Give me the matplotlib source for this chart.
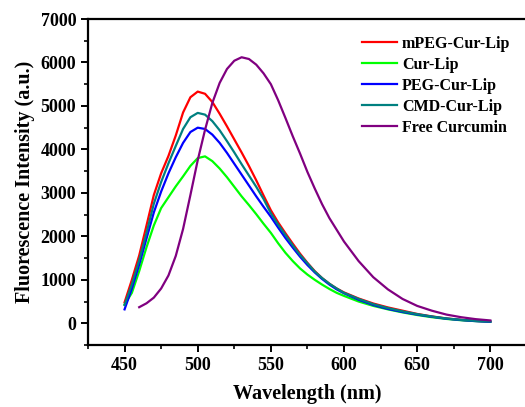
import numpy as np
import matplotlib
matplotlib.use("Agg")
import matplotlib.pyplot as plt
from matplotlib.ticker import MultipleLocator

plt.rcParams['font.family'] = ['Liberation Serif', 'DejaVu Serif']
plt.rcParams['font.weight'] = 'bold'

# wavelength grid (nm) for the liposome spectra
wl = [450, 455, 460, 465, 470, 475, 480, 485, 490, 495, 500, 505, 510, 515, 520,
      525, 530, 535, 540, 545, 550, 555, 560, 565, 570, 575, 580, 585, 590, 595,
      600, 610, 620, 630, 640, 650, 660, 670, 680, 690, 700]

mpeg = [480, 1000, 1560, 2250, 2950, 3450, 3850, 4320, 4850, 5200, 5330, 5280, 5090,
        4820, 4530, 4230, 3930, 3620, 3290, 2940, 2600, 2320, 2070, 1830, 1600, 1390,
        1200, 1040, 910, 800, 710, 570, 455, 365, 290, 215, 158, 112, 80, 55, 40]
cur = [430, 700, 1200, 1750, 2250, 2650, 2900, 3150, 3380, 3620, 3800, 3840, 3730,
       3560, 3360, 3140, 2920, 2720, 2510, 2290, 2080, 1840, 1620, 1430, 1260, 1120,
       1000, 890, 790, 700, 630, 500, 400, 320, 250, 190, 140, 100, 70, 50, 35]
peg = [320, 800, 1350, 1950, 2550, 3030, 3450, 3820, 4150, 4400, 4500, 4470, 4340,
       4150, 3920, 3670, 3420, 3170, 2920, 2680, 2450, 2200, 1960, 1740, 1530, 1340,
       1170, 1020, 890, 780, 690, 540, 420, 330, 260, 200, 150, 105, 75, 50, 35]
cmd = [420, 900, 1450, 2080, 2750, 3250, 3680, 4080, 4470, 4740, 4840, 4800, 4650,
       4440, 4190, 3930, 3660, 3400, 3140, 2860, 2530, 2270, 2030, 1790, 1570, 1380,
       1190, 1040, 910, 800, 700, 560, 440, 350, 275, 210, 155, 110, 78, 55, 40]

# free curcumin starts at 460 nm
wl_free = [460, 465, 470, 475, 480, 485, 490, 495, 500, 505, 510, 515, 520, 525, 530,
           535, 540, 545, 550, 555, 560, 565, 570, 575, 580, 585, 590, 595, 600, 610,
           620, 630, 640, 650, 660, 670, 680, 690, 700]
free = [370, 460, 590, 800, 1100, 1550, 2170, 2950, 3750, 4450, 5070, 5530, 5850, 6040,
        6120, 6080, 5950, 5750, 5500, 5130, 4720, 4300, 3900, 3480, 3100, 2740, 2420,
        2150, 1880, 1430, 1060, 780, 560, 400, 290, 200, 140, 95, 65]

fig = plt.figure(figsize=(5.25, 4.07), dpi=100)
# right spine sits just outside the picture, like the cropped original
ax = fig.add_axes([0.1676, 0.1523, 0.836, 0.801])

lw = 1.6
kw = dict(lw=lw, solid_joinstyle='round')
ax.plot(wl, mpeg, color='#ff0000', label='mPEG-Cur-Lip', **kw)
ax.plot(wl, cur, color='#00ff00', label='Cur-Lip', **kw)
ax.plot(wl, peg, color='#0000ff', label='PEG-Cur-Lip', **kw)
ax.plot(wl, cmd, color='#008080', label='CMD-Cur-Lip', **kw)
ax.plot(wl_free, free, color='#800080', label='Free Curcumin', **kw)

ax.set_xlim(425, 725)
ax.set_ylim(-500, 7000)
ax.xaxis.set_minor_locator(MultipleLocator(25))
ax.yaxis.set_major_locator(MultipleLocator(1000))
ax.yaxis.set_minor_locator(MultipleLocator(500))
ax.set_xticks([450, 500, 550, 600, 650, 700])

for s in ax.spines.values():
    s.set_linewidth(1.6)
ax.tick_params(which='major', direction='out', length=5, width=1.4, labelsize=13)
ax.tick_params(which='minor', direction='out', length=3, width=1.2)
ax.tick_params(top=False, right=False, which='both')

ax.set_xlabel('Wavelength (nm)', fontsize=14.5, fontweight='bold', labelpad=7)
ax.set_ylabel('Fluorescence Intensity (a.u.)', fontsize=14.5, fontweight='bold', labelpad=4)

ax.legend(loc='upper left', bbox_to_anchor=(0.668, 0.94), bbox_transform=fig.transFigure,
          frameon=False, fontsize=11.5, handlelength=2.2, handletextpad=0.3,
          labelspacing=0.32, borderpad=0.2)

fig.savefig('out.png', dpi=100)
